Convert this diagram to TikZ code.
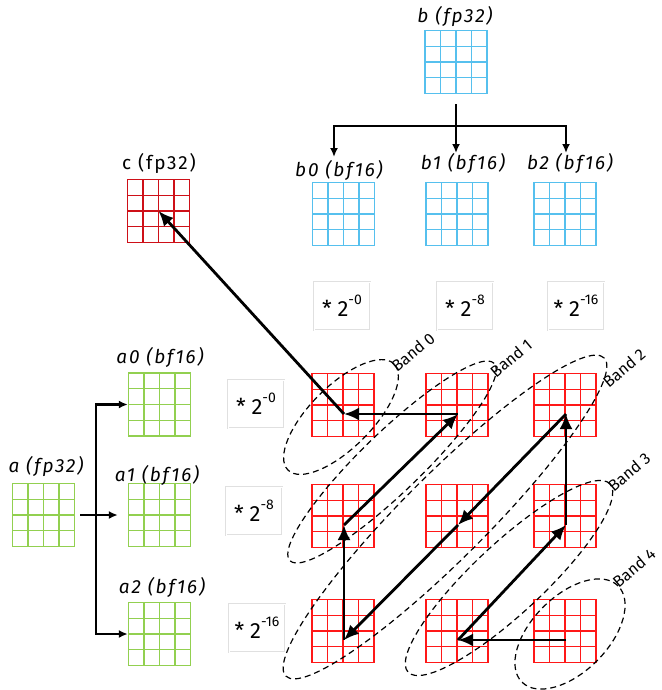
\documentclass[tikz,border=0pt]{standalone}
\usepackage{fontspec}
\setmainfont{Fira Sans}
\newfontfamily\lblfont[LetterSpace=10]{Fira Sans}
\usepackage{xcolor}
\usetikzlibrary{
    arrows.meta,
    shapes,
    calc,
    positioning
}
\definecolor{agreen}{RGB}{146,208,80}
\definecolor{bblue}{RGB}{86,192,238}
\definecolor{cred}{RGB}{206,16,24}
\definecolor{pred}{RGB}{255,24,24}
\newcommand{\scalepow}[1]{* 2\raisebox{12pt}{\fontsize{14}{14}\selectfont #1}}
\tikzset{
    tile/.style={draw=#1, line width=1.4pt, minimum width=62pt, minimum height=63pt, inner sep=0pt,
        path picture={
            \foreach \k in {1,2,3}{
                \draw[#1, line width=1.2pt]
                ($(path picture bounding box.south west)!\k/4!(path picture bounding box.south east)$) --
                ($(path picture bounding box.north west)!\k/4!(path picture bounding box.north east)$)
                ($(path picture bounding box.south west)!\k/4!(path picture bounding box.north west)$) --
                ($(path picture bounding box.south east)!\k/4!(path picture bounding box.north east)$);
            }
        }},
    mtxlbl/.style={font=\fontsize{19}{22}\lblfont\itshape, inner sep=0pt},
    scalebox/.style={draw=black!12, line width=0.6pt, double=white, double distance=1pt,
        minimum width=56pt, minimum height=48pt, inner sep=0pt, font=\fontsize{22}{26}\selectfont},
    tree/.style={line width=2.4pt, >={Latex[length=9pt, width=8pt]}},
    flow/.style={line width=2.8pt, >={Latex[length=15pt, width=13pt]}},
    band/.style={draw, dash pattern=on 6pt off 4pt, line width=1.2pt},
    bandlbl/.style={font=\fontsize{16}{18}\selectfont, inner sep=0pt, rotate=40}
}
\begin{document}
\begin{tikzpicture}[x=1pt, y=-1pt]
    \useasboundingbox (0,0) rectangle (661,690);

    % b and its bf16 parts
    \node[tile=bblue] (b) at (456,62) {};
    \node[mtxlbl] (blbl) at (455,17) {b (fp32)};
    \node[tile=bblue] (b0) at (343.5,214) {};
    \node[tile=bblue] (b1) at (457,214) {};
    \node[tile=bblue] (b2) at (565,214) {};
    \node[mtxlbl] (b0lbl) at (339,170) {b0 (bf16)};
    \node[mtxlbl] (b1lbl) at (463,163) {b1 (bf16)};
    \node[mtxlbl] (b2lbl) at (570,163) {b2 (bf16)};
    \coordinate (bsplit) at (456,126);
    \coordinate (b0in) at (334,157);
    \coordinate (b1in) at (456,153);
    \coordinate (b2in) at (566,153);
    \draw[tree, <->] (b0in) |- (bsplit) -| (b2in);
    \draw[tree, ->, shorten <=10pt] (b.south) -- (b1in);

    % result
    \node[tile=cred] (c) at (158.5,211) {};
    \node[mtxlbl, font=\fontsize{19}{22}\lblfont] (clbl) at (159,163) {c (fp32)};

    % a and its bf16 parts
    \node[tile=agreen] (a) at (43.5,515) {};
    \node[mtxlbl] (albl) at (46,467) {a (fp32)};
    \node[tile=agreen] (a0) at (159.5,404.5) {};
    \node[tile=agreen] (a1) at (159.5,515) {};
    \node[tile=agreen] (a2) at (159.5,634) {};
    \node[mtxlbl] (a0lbl) at (160,357) {a0 (bf16)};
    \node[mtxlbl] (a1lbl) at (157,475) {a1 (bf16)};
    \node[mtxlbl] (a2lbl) at (162,587) {a2 (bf16)};
    \coordinate (asplit) at (96,515);
    \draw[tree, ->, shorten <=5pt, shorten >=10pt] (a.east) -- (a1.west);
    \draw[tree, <->] (a0.west) -| (asplit) |- (a2.west);

    % scale factors
    \node[scalebox] (sb0) at (342,306) {\scalepow{-0}};
    \node[scalebox] (sb1) at (465,306) {\scalepow{-8}};
    \node[scalebox] (sb2) at (576,306) {\scalepow{-16}};
    \node[scalebox] (sa0) at (256,404) {\scalepow{-0}};
    \node[scalebox] (sa1) at (254,511) {\scalepow{-8}};
    \node[scalebox] (sa2) at (257,628) {\scalepow{-16}};

    % partial products
    \foreach \r/\y in {0/405,1/516,2/631}{
        \foreach \c/\x in {0/343,1/457,2/565}{
            \node[tile=pred] (p\r\c) at (\x,\y) {};
            \coordinate (q\r\c) at ($(p\r\c.center)+(1,9)$);
        }
    }

    % bands
    \coordinate (band0) at (341,417);
    \coordinate (band1) at (392,462);
    \coordinate (band2) at (445,517);
    \coordinate (band3) at (509,578);
    \coordinate (band4) at (570,634);
    \draw[band, rotate around={45:(band0)}] (band0) ellipse [x radius=75pt, y radius=31pt];
    \draw[band, rotate around={44:(band1)}] (band1) ellipse [x radius=142pt, y radius=30pt];
    \draw[band, rotate around={45:(band2)}] (band2) ellipse [x radius=225pt, y radius=42pt];
    \draw[band, rotate around={43:(band3)}] (band3) ellipse [x radius=138pt, y radius=35pt];
    \draw[band, rotate around={45:(band4)}] (band4) ellipse [x radius=68pt, y radius=38pt];
    \node[bandlbl] (band0lbl) at (413,352) {Band 0};
    \node[bandlbl] (band1lbl) at (511,358) {Band 1};
    \node[bandlbl] (band2lbl) at (624,368) {Band 2};
    \node[bandlbl] (band3lbl) at (629,472) {Band 3};
    \node[bandlbl] (band4lbl) at (634,568) {Band 4};

    % accumulation order
    \draw[flow]
    (q22) edge[->] (q21)
    (q21) edge[->] (q12)
    (q12) edge[->] (q02)
    (q02) edge[->] (q11)
    (q11) edge[->] (q20)
    (q20) edge[->] (q10)
    (q10) edge[->] (q01)
    (q01) edge[->] (q00)
    (q00) edge[->] (c.center);
\end{tikzpicture}
\end{document}
